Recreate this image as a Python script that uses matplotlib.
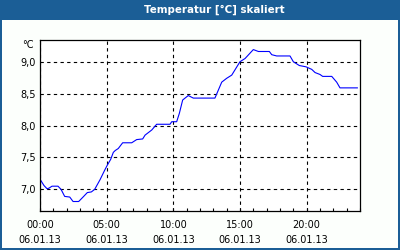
import matplotlib
matplotlib.use("Agg")
import matplotlib.pyplot as plt
from matplotlib.patches import Rectangle
from matplotlib.ticker import FixedLocator, MultipleLocator

title = "Temperatur [°C] skaliert"
unit = "°C"
date_label = "06.01.13"

hours = [0.0, 0.3, 0.53, 0.68, 0.9, 1.35, 1.58, 1.85, 2.23, 2.48, 2.9, 3.23, 3.55, 3.85,
         4.1, 4.5, 4.85, 5.05, 5.3, 5.5, 5.65, 5.87, 6.2, 6.88, 7.25, 7.7, 7.88, 8.38,
         8.75, 9.75, 9.88, 10.25, 10.45, 10.7, 11.12, 11.5, 13.12, 13.63, 14.0, 14.38,
         15.0, 15.38, 16.0, 16.38, 17.2, 17.38, 17.75, 18.75, 19.0, 19.45, 19.95, 20.38,
         20.63, 21.0, 21.2, 21.88, 22.25, 22.5, 23.8]
temps = [7.16, 7.06, 7.01, 7.02, 7.05, 7.05, 7.00, 6.89, 6.88, 6.81, 6.81, 6.88, 6.95, 6.96,
         7.00, 7.15, 7.30, 7.38, 7.47, 7.58, 7.61, 7.64, 7.73, 7.73, 7.78, 7.79, 7.85, 7.93,
         8.02, 8.02, 8.06, 8.06, 8.19, 8.40, 8.47, 8.43, 8.43, 8.68, 8.74, 8.79,
         9.00, 9.05, 9.19, 9.16, 9.16, 9.11, 9.09, 9.09, 9.00, 8.94, 8.92, 8.88,
         8.83, 8.80, 8.77, 8.77, 8.68, 8.59, 8.59]

x_ticks = [0, 5, 10, 15, 20]
x_tick_times = ["00:00", "05:00", "10:00", "15:00", "20:00"]
y_ticks = [7.0, 7.5, 8.0, 8.5, 9.0]
y_tick_labels = ["7,0", "7,5", "8,0", "8,5", "9,0"]

plt.rcParams['font.family'] = ['DejaVu Sans']
fig = plt.figure(figsize=(4, 2.5), dpi=100)
fig.patch.set_facecolor("#fcfffc")

bar_color = "#1b5e96"
# title bar and border
fig.patches.append(Rectangle((0, 230/250), 1, 20/250, transform=fig.transFigure,
                             facecolor=bar_color, edgecolor="none", zorder=0))
fig.patches.append(Rectangle((0, 0), 2/400, 1, transform=fig.transFigure,
                             facecolor=bar_color, edgecolor="none", zorder=0))
fig.patches.append(Rectangle((398/400, 0), 2/400, 1, transform=fig.transFigure,
                             facecolor=bar_color, edgecolor="none", zorder=0))
fig.patches.append(Rectangle((0, 0), 1, 2/250, transform=fig.transFigure,
                             facecolor=bar_color, edgecolor="none", zorder=0))
fig.text(214/400, 1 - 10/250, title, color="white", fontweight="bold", fontsize=7.4,
         ha="center", va="center")

ax = fig.add_axes([40/400, 1 - 210.7/250, 320/400, 170.7/250])
ax.set_facecolor("white")
ax.plot(hours, temps, color="#0000ff", lw=0.8)
ax.set_xlim(0, 24)
ax.set_ylim(6.666, 9.34)

ax.xaxis.set_major_locator(FixedLocator(x_ticks))
ax.set_xticklabels([f"{t}\n{date_label}" for t in x_tick_times], fontsize=7, linespacing=1.6)
ax.xaxis.set_minor_locator(MultipleLocator(1))
ax.tick_params(axis="x", which="both", direction="in", length=2.5, width=0.8, pad=7, colors="black")
ax.set_yticks(y_ticks)
ax.set_yticklabels(y_tick_labels, fontsize=7)
ax.tick_params(axis="y", length=0, pad=3)
ax.grid(True, which="major", color="black", lw=0.8, linestyle=(0, (3, 3)))
for s in ax.spines.values():
    s.set_color("black")
    s.set_linewidth(0.9)

fig.text(28/400, 1 - 45/250, unit, fontsize=7, ha="center", va="center")

fig.savefig("out.png", dpi=100, facecolor=fig.get_facecolor())
